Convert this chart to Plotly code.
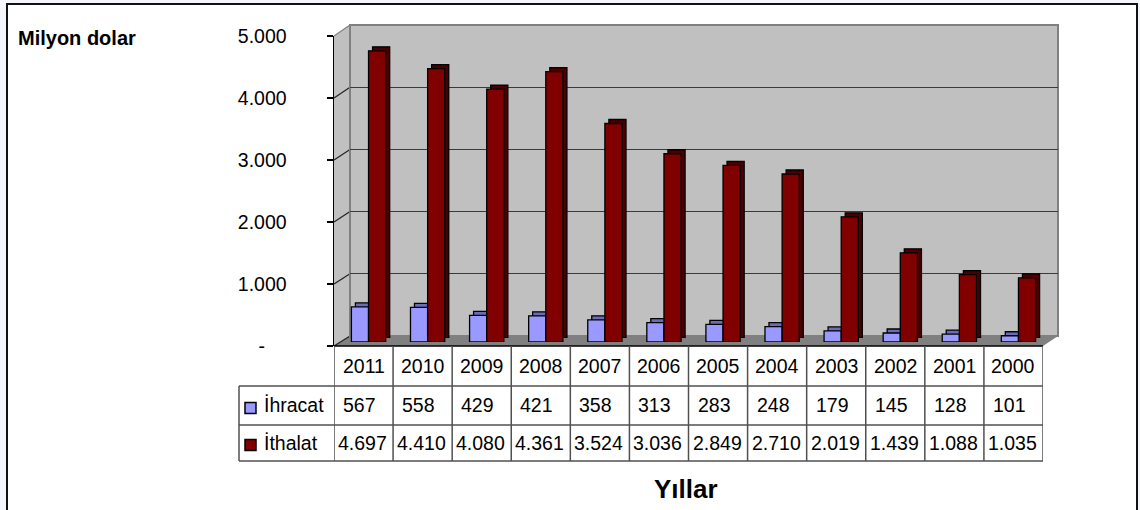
import plotly.graph_objects as go

# ---------------- data ----------------
years = ["2011", "2010", "2009", "2008", "2007", "2006",
         "2005", "2004", "2003", "2002", "2001", "2000"]
ihracat = [567, 558, 429, 421, 358, 313, 283, 248, 179, 145, 128, 101]
ithalat = [4697, 4410, 4080, 4361, 3524, 3036, 2849, 2710, 2019, 1439, 1088, 1035]
series_names = ["İhracat", "İthalat"]
y_ticks = [0, 1000, 2000, 3000, 4000, 5000]
y_tick_labels = ["-\u2007\u2007", "1.000", "2.000", "3.000", "4.000", "5.000"]
y_title = "Milyon dolar"
x_title = "Yıllar"


def fmt(v):
    return f"{v:,}".replace(",", ".")


# ---------------- geometry / style ----------------
W, H = 1140, 510
FONT = "Liberation Sans, Arial, sans-serif"
FS = 19.5
C_IHR, C_ITH = "#9999FF", "#800000"
C_IHR_D, C_ITH_D = "#6b6bb8", "#4a0000"


def px(x):
    return x / W


def py(y):
    return 1 - y / H


# front plane (axis + table), back wall, bar planes (pixel positions)
FX0, FX1, FY0, FY5 = 334, 1043, 346, 36
BX0, BX1, BY0, BY5 = 350, 1058, 336, 25
DX, DY = 5, 4          # bar front faces
EX, EY = 4, 4          # extrusion depth


def xdom(x0, x1):
    return [px(x0), px(x1)]


def ydom(y0, y5):
    return [py(y0), py(y5)]


fig = go.Figure()

# wall subplot (x,y) - only gridlines
fig.add_trace(go.Scatter(x=[], y=[], xaxis="x", yaxis="y",
                         showlegend=False, hoverinfo="skip"))
# extrusion (x2,y2)
fig.add_trace(go.Bar(x=years, y=ihracat, xaxis="x2", yaxis="y2", width=0.29, offset=-0.29,
                     marker=dict(color=C_IHR_D, line=dict(color="black", width=1.3)),
                     showlegend=False, hoverinfo="skip"))
fig.add_trace(go.Bar(x=years, y=ithalat, xaxis="x2", yaxis="y2", width=0.29, offset=0,
                     marker=dict(color=C_ITH_D, line=dict(color="black", width=1.3)),
                     showlegend=False, hoverinfo="skip"))
# front faces (x3,y3)
fig.add_trace(go.Bar(x=years, y=ihracat, xaxis="x3", yaxis="y3", width=0.29, offset=-0.29,
                     name=series_names[0],
                     marker=dict(color=C_IHR, line=dict(color="black", width=1.3)),
                     showlegend=False))
fig.add_trace(go.Bar(x=years, y=ithalat, xaxis="x3", yaxis="y3", width=0.29, offset=0,
                     name=series_names[1],
                     marker=dict(color=C_ITH, line=dict(color="black", width=1.3)),
                     showlegend=False))
# front axis (x4,y4)
fig.add_trace(go.Scatter(x=[], y=[], xaxis="x4", yaxis="y4",
                         showlegend=False, hoverinfo="skip"))

hidden_x = dict(type="category", categoryorder="array", categoryarray=years,
                range=[-0.5, len(years) - 0.5], showgrid=False, zeroline=False,
                showticklabels=False, ticks="", showline=False, fixedrange=True,
                automargin=False)
hidden_y = dict(range=[0, 5000], showgrid=False, zeroline=False, showticklabels=False,
                ticks="", showline=False, fixedrange=True, automargin=False)

fig.update_layout(
    width=W, height=H, autosize=False,
    margin=dict(l=0, r=0, t=0, b=0, pad=0, autoexpand=False),
    paper_bgcolor="#F5F5FC", plot_bgcolor="rgba(0,0,0,0)",
    barmode="overlay", bargap=0, showlegend=False,
    font=dict(family=FONT, size=FS, color="black"),
    xaxis=dict(hidden_x, domain=xdom(BX0, BX1), anchor="y"),
    yaxis=dict(hidden_y, domain=ydom(BY0, BY5), anchor="x", showgrid=True,
               tickvals=y_ticks, gridcolor="#3a3a3a", gridwidth=1),
    xaxis2=dict(hidden_x, domain=xdom(FX0 + DX + EX, FX1 + DX + EX), anchor="y2"),
    yaxis2=dict(hidden_y, domain=ydom(FY0 - DY - EY, FY5 - DY - EY), anchor="x2"),
    xaxis3=dict(hidden_x, domain=xdom(FX0 + DX, FX1 + DX), anchor="y3"),
    yaxis3=dict(hidden_y, domain=ydom(FY0 - DY, FY5 - DY), anchor="x3"),
    xaxis4=dict(hidden_x, domain=xdom(FX0, FX1), anchor="y4"),
    yaxis4=dict(range=[0, 5000], domain=ydom(FY0, FY5), anchor="x4",
                tickvals=y_ticks, ticktext=y_tick_labels, automargin=False,
                showgrid=False, zeroline=False, showline=True, linecolor="black",
                linewidth=1.5, ticks="outside", ticklen=6, tickwidth=1.5,
                tickcolor="black", ticklabelstandoff=36,
                tickfont=dict(family=FONT, size=FS, color="black"), fixedrange=True),
)


def yF(v):
    return FY0 - (FY0 - FY5) * v / 5000


def yB(v):
    return BY0 - (BY0 - BY5) * v / 5000


shapes = []
# frame
shapes.append(dict(type="rect", xref="paper", yref="paper", x0=px(7), x1=px(1137),
                   y0=py(516), y1=py(4), fillcolor="white",
                   line=dict(color="#111111", width=2), layer="below"))
# side wall
shapes.append(dict(type="path", xref="paper", yref="paper", layer="below",
                   path=f"M {px(FX0)},{py(yF(5000))} L {px(BX0)},{py(yB(5000))} "
                        f"L {px(BX0)},{py(yB(0))} L {px(FX0)},{py(yF(0))} Z",
                   fillcolor="#C0C0C0", line=dict(width=0)))
# floor
shapes.append(dict(type="path", xref="paper", yref="paper", layer="below",
                   path=f"M {px(FX0)},{py(FY0)} L {px(BX0)},{py(BY0)} "
                        f"L {px(BX1)},{py(BY0)} L {px(FX1)},{py(FY0)} Z",
                   fillcolor="#808080", line=dict(width=0)))
# side wall diagonals
for v in y_ticks:
    shapes.append(dict(type="line", xref="paper", yref="paper", layer="below",
                       x0=px(FX0), y0=py(yF(v)), x1=px(BX0), y1=py(yB(v)),
                       line=dict(color="#808080" if v == 5000 else "#222222", width=1.2)))
# back wall
shapes.append(dict(type="rect", xref="x domain", yref="y domain", x0=0, x1=1, y0=0, y1=1,
                   fillcolor="#C0C0C0", line=dict(color="#808080", width=2), layer="below"))

# data table
TL = "#505050"
ROW_T, ROW_1, ROW_2, ROW_B = 346, 386, 425, 461
LEG_X = 239
shapes.append(dict(type="line", xref="paper", yref="paper", x0=px(FX0), x1=px(FX1),
                   y0=py(ROW_T), y1=py(ROW_T), line=dict(color="black", width=1.5)))
for yy in (ROW_1, ROW_2, ROW_B):
    shapes.append(dict(type="line", xref="paper", yref="paper", x0=px(LEG_X), x1=px(FX1),
                       y0=py(yy), y1=py(yy), line=dict(color=TL, width=1.5)))
shapes.append(dict(type="line", xref="paper", yref="paper", x0=px(LEG_X), x1=px(LEG_X),
                   y0=py(ROW_1), y1=py(ROW_B), line=dict(color=TL, width=1.5)))
for i in range(len(years) + 1):
    shapes.append(dict(type="line", xref="x4", yref="paper", x0=i - 0.5, x1=i - 0.5,
                       y0=py(ROW_T), y1=py(ROW_B), line=dict(color=TL, width=1.5)))
# legend keys
for (yc, col) in ((408, C_IHR), (445, C_ITH)):
    shapes.append(dict(type="rect", xref="paper", yref="paper",
                       x0=px(245), x1=px(256), y0=py(yc + 5.5), y1=py(yc - 5.5),
                       fillcolor=col, line=dict(color="black", width=1.5)))

fig.update_layout(shapes=shapes)

ann = []
for i, yr in enumerate(years):
    ann.append(dict(x=i, xref="x4", y=py(366), yref="paper", text=yr, showarrow=False,
                    xanchor="center", yanchor="middle", font=dict(size=FS)))
    ann.append(dict(x=i, xref="x4", y=py(405), yref="paper", text=fmt(ihracat[i]),
                    showarrow=False, xanchor="center", yanchor="middle", xshift=-4,
                    font=dict(size=FS)))
    ann.append(dict(x=i, xref="x4", y=py(443), yref="paper", text=fmt(ithalat[i]),
                    showarrow=False, xanchor="center", yanchor="middle", xshift=-1,
                    font=dict(size=FS)))
ann.append(dict(x=px(262), y=py(405), xref="paper", yref="paper", text=series_names[0],
                showarrow=False, xanchor="left", yanchor="middle", font=dict(size=FS)))
ann.append(dict(x=px(262), y=py(443), xref="paper", yref="paper", text=series_names[1],
                showarrow=False, xanchor="left", yanchor="middle", font=dict(size=FS)))
ann.append(dict(x=px(16), y=py(38), xref="paper", yref="paper", text=f"<b>{y_title}</b>",
                showarrow=False, xanchor="left", yanchor="middle", font=dict(size=20)))
ann.append(dict(x=px(686), y=py(489), xref="paper", yref="paper", text=f"<b>{x_title}</b>",
                showarrow=False, xanchor="center", yanchor="middle", font=dict(size=26)))
fig.update_layout(annotations=ann)

fig.write_html("out.html", config=dict(displayModeBar=False, staticPlot=True),
               post_script="document.body.style.margin='0';"
                           "document.body.style.overflow='hidden';")
